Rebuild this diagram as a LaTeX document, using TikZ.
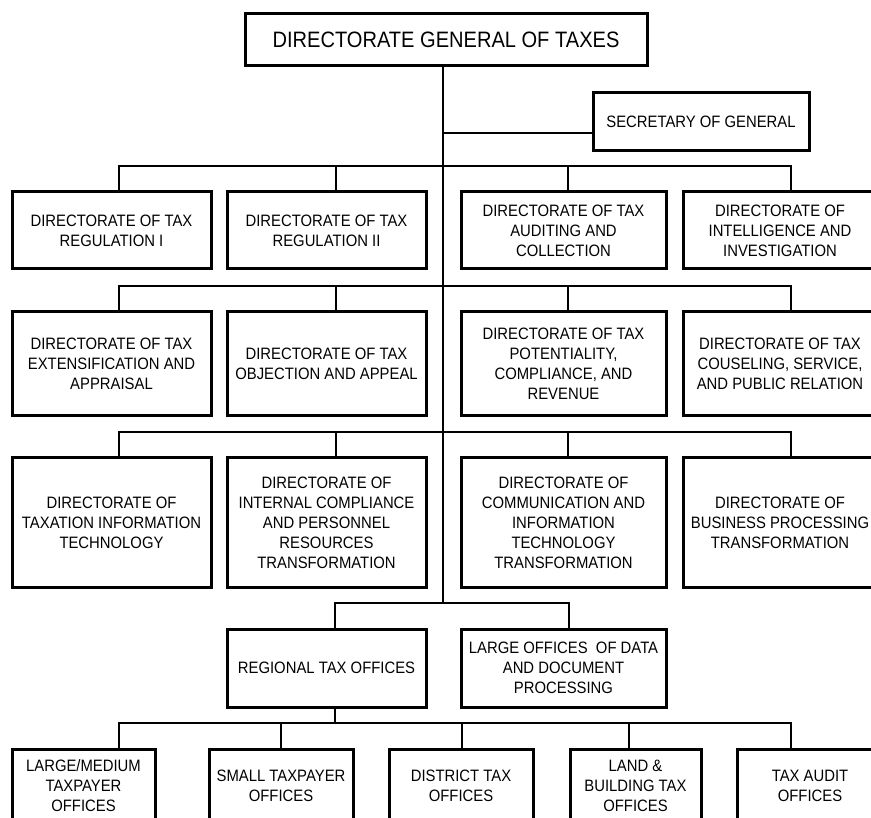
\documentclass[tikz,border=0pt]{standalone}
\usepackage{fontspec}
\setmainfont[FakeStretch=0.9]{Liberation Sans}
\newcommand{\boxfont}{\fontsize{16.5}{20}\selectfont}
\newcommand{\topfont}{\fontsize{22.3}{25}\selectfont}
\tikzset{
  orgbox/.style={draw, line width=3pt, inner sep=0pt, align=center, font=\boxfont},
  wire/.style={line width=2.8pt, line cap=rect}
}
\begin{document}
\begin{tikzpicture}[x=1pt,y=-1pt]
\useasboundingbox (0,0) rectangle (871,818);
\clip (0,0) rectangle (871,818);
% top
\node[orgbox, font=\topfont, minimum width=402pt, minimum height=52pt] (top) at (446,40) {DIRECTORATE GENERAL OF TAXES};
\node[orgbox, minimum width=216pt, minimum height=58pt] (sec) at (701,122) {SECRETARY OF GENERAL};
% row 1
\node[orgbox, minimum width=199pt, minimum height=77pt] (r1c1) at (111.5,230.5) {DIRECTORATE OF TAX\\REGULATION I};
\node[orgbox, minimum width=199pt, minimum height=77pt] (r1c2) at (326.5,230.5) {DIRECTORATE OF TAX\\REGULATION II};
\node[orgbox, minimum width=205pt, minimum height=77pt] (r1c3) at (563.5,230.5) {DIRECTORATE OF TAX\\AUDITING AND\\COLLECTION};
\node[orgbox, minimum width=194pt, minimum height=77pt] (r1c4) at (780,230.5) {DIRECTORATE OF\\INTELLIGENCE AND\\INVESTIGATION};
% row 2
\node[orgbox, minimum width=199pt, minimum height=104pt] (r2c1) at (111.5,364) {DIRECTORATE OF TAX\\EXTENSIFICATION AND\\APPRAISAL};
\node[orgbox, minimum width=199pt, minimum height=104pt] (r2c2) at (326.5,364) {DIRECTORATE OF TAX\\OBJECTION AND APPEAL};
\node[orgbox, minimum width=205pt, minimum height=104pt] (r2c3) at (563.5,364) {DIRECTORATE OF TAX\\POTENTIALITY,\\COMPLIANCE, AND\\REVENUE};
\node[orgbox, minimum width=194pt, minimum height=104pt] (r2c4) at (780,364) {DIRECTORATE OF TAX\\COUSELING, SERVICE,\\AND PUBLIC RELATION};
% row 3
\node[orgbox, minimum width=199pt, minimum height=129pt] (r3c1) at (111.5,522.5) {DIRECTORATE OF\\TAXATION INFORMATION\\TECHNOLOGY};
\node[orgbox, minimum width=199pt, minimum height=129pt] (r3c2) at (326.5,522.5) {DIRECTORATE OF\\INTERNAL COMPLIANCE\\AND PERSONNEL\\RESOURCES\\TRANSFORMATION};
\node[orgbox, minimum width=205pt, minimum height=129pt] (r3c3) at (563.5,522.5) {DIRECTORATE OF\\COMMUNICATION AND\\INFORMATION\\TECHNOLOGY\\TRANSFORMATION};
\node[orgbox, minimum width=194pt, minimum height=129pt] (r3c4) at (780,522.5) {DIRECTORATE OF\\BUSINESS PROCESSING\\TRANSFORMATION};
% row 4
\node[orgbox, minimum width=199pt, minimum height=78pt] (reg) at (326.5,668) {REGIONAL TAX OFFICES};
\node[orgbox, minimum width=205pt, minimum height=78pt] (lod) at (563.5,668) {LARGE OFFICES\ \ OF DATA\\AND DOCUMENT\\PROCESSING};
% bottom
\node[orgbox, minimum width=143pt, minimum height=73pt] (b1) at (83.5,785.5) {LARGE/MEDIUM\\TAXPAYER\\OFFICES};
\node[orgbox, minimum width=144pt, minimum height=73pt] (b2) at (281,785.5) {SMALL TAXPAYER\\OFFICES};
\node[orgbox, minimum width=144pt, minimum height=73pt] (b3) at (461,785.5) {DISTRICT TAX\\OFFICES};
\node[orgbox, minimum width=131pt, minimum height=73pt] (b4) at (635.5,785.5) {LAND \&\\BUILDING TAX\\OFFICES};
\node[orgbox, minimum width=146pt, minimum height=73pt] (b5) at (810,785.5) {TAX AUDIT\\OFFICES};
% junction coordinates
\coordinate (tend) at (443,603);
\coordinate (jsec) at (443,133);
\foreach \r/\y in {1/166,2/286,3/432} {
  \coordinate (j\r a) at (119,\y);
  \coordinate (j\r b) at (336,\y);
  \coordinate (j\r c) at (568,\y);
  \coordinate (j\r d) at (791,\y);
}
\coordinate (j4a) at (335,603);
\coordinate (j4b) at (569,603);
\coordinate (jm) at (335,723);
\coordinate (k1) at (119,723);
\coordinate (k2) at (281,723);
\coordinate (k3) at (462,723);
\coordinate (k4) at (629,723);
\coordinate (k5) at (791,723);
% trunk
\draw[wire] (top.south -| tend) -- (tend);
\draw[wire] (jsec) -- (sec.west |- jsec);
% rows 1-3
\foreach \r in {1,2,3} {
  \draw[wire] (j\r a) -- (j\r d);
  \draw[wire] (j\r a) -- (j\r a |- r\r c1.north);
  \draw[wire] (j\r b) -- (j\r b |- r\r c2.north);
  \draw[wire] (j\r c) -- (j\r c |- r\r c3.north);
  \draw[wire] (j\r d) -- (j\r d |- r\r c4.north);
}
% row 4
\draw[wire] (j4a) -- (j4b);
\draw[wire] (j4a) -- (j4a |- reg.north);
\draw[wire] (j4b) -- (j4b |- lod.north);
% bottom
\draw[wire] (jm |- reg.south) -- (jm);
\draw[wire] (k1) -- (k5);
\draw[wire] (k1) -- (k1 |- b1.north);
\draw[wire] (k2) -- (k2 |- b2.north);
\draw[wire] (k3) -- (k3 |- b3.north);
\draw[wire] (k4) -- (k4 |- b4.north);
\draw[wire] (k5) -- (k5 |- b5.north);
\end{tikzpicture}
\end{document}
